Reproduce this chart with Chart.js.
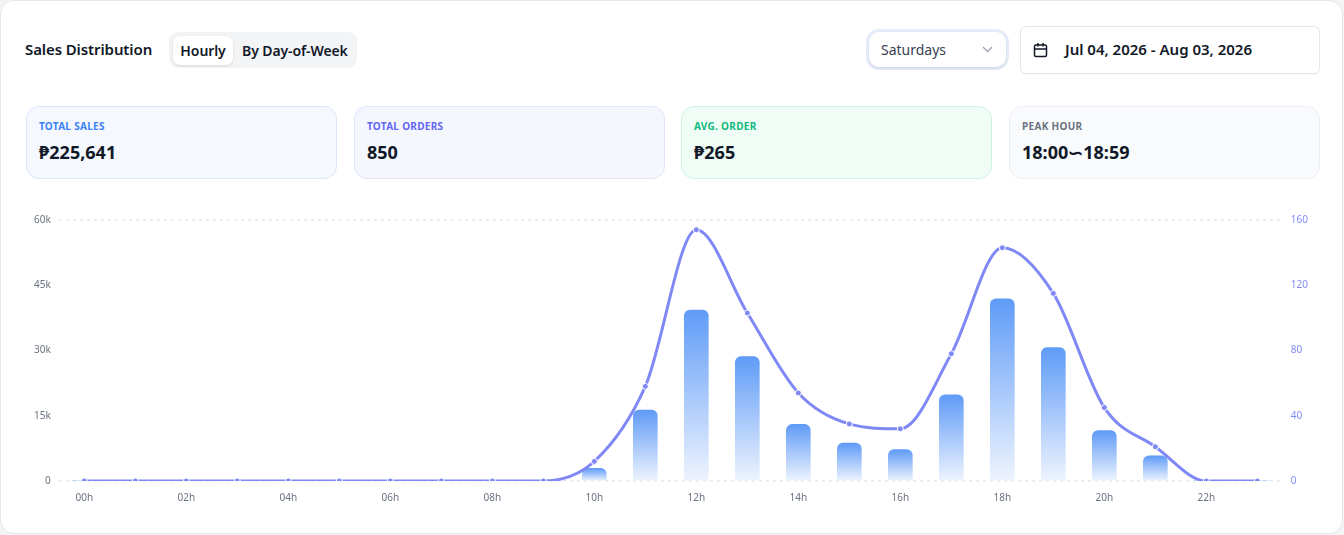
<!DOCTYPE html>
<html>
<head>
<meta charset="utf-8">
<script src="https://cdn.jsdelivr.net/npm/chart.js@4"></script>
<style>
  * { box-sizing: border-box; }
  body { margin: 0; background: #f3f4f6; font-family: "Noto Sans", Roboto, sans-serif; color: #111827; }
  .card { position: absolute; left: 0; top: 0; width: 1343px; height: 534px; background: #fff; border: 1px solid #e5e7eb; border-radius: 14px; }
  .title { position: absolute; left: 24px; top: 38px; font-size: 15px; font-weight: 600; letter-spacing: -0.1px; }
  .tabs { position: absolute; left: 168px; top: 31px; width: 188px; height: 36px; background: #f3f4f6; border-radius: 9px; }
  .tab { position: absolute; top: 4px; height: 29px; line-height: 29px; font-size: 14px; font-weight: 600; letter-spacing: -0.1px; }
  .tab.active { left: 4px; width: 60px; background: #fff; border-radius: 7px; box-shadow: 0 1px 3px rgba(0,0,0,0.12); text-align: center; }
  .select { position: absolute; left: 865px; top: 28px; width: 143px; height: 41px; border-radius: 13px; background: #e6eefc; padding: 3px; }
  .select .in { width: 100%; height: 100%; background: #fff; border-radius: 10px; box-shadow: 0 1px 3px rgba(0,0,0,0.12); position: relative; }
  .select .txt { position: absolute; left: 12px; top: 8px; font-size: 14px; color: #374151; }
  .select svg { position: absolute; right: 13px; top: 14px; }
  .date { position: absolute; left: 1019px; top: 25px; width: 300px; height: 48px; border: 1px solid #e5e7eb; border-radius: 6px; background: #fff; box-shadow: 0 1px 2px rgba(0,0,0,0.04); }
  .date svg { position: absolute; left: 12px; top: 15px; }
  .date .txt { position: absolute; left: 44px; top: 12px; font-size: 15px; font-weight: 600; }
  .stat { position: absolute; top: 105px; width: 311px; height: 73px; border-radius: 13px; border: 1px solid; }
  .stat .lbl { position: absolute; left: 12px; top: 12px; font-size: 10px; font-weight: 700; letter-spacing: 0.3px; }
  .stat .val { position: absolute; left: 12px; top: 33px; font-size: 18px; font-weight: 700; color: #111827; }
  .chartbox { position: absolute; left: 25px; top: 205px; width: 1290px; height: 301px; }
</style>
</head>
<body>
<div class="card">
  <div class="title">Sales Distribution</div>
  <div class="tabs">
    <div class="tab active">Hourly</div>
    <div class="tab" style="left:73px">By Day-of-Week</div>
  </div>
  <div class="select"><div class="in">
    <div class="txt">Saturdays</div>
    <svg width="11" height="7" viewBox="0 0 11 7"><path d="M1 1l4.5 4.5L10 1" fill="none" stroke="#9ca3af" stroke-width="1.3"/></svg>
  </div></div>
  <div class="date">
    <svg width="15" height="16" viewBox="0 0 15 16"><rect x="1.5" y="3" width="12" height="11.5" rx="1.5" fill="none" stroke="#111827" stroke-width="1.5"/><path d="M1.5 7h12M5 1v3.5M10 1v3.5" stroke="#111827" stroke-width="1.5"/></svg>
    <div class="txt">Jul 04, 2026 - Aug 03, 2026</div>
  </div>

  <div class="stat" style="left:25px;background:#f5f8ff;border-color:#dbe6fb">
    <div class="lbl" style="color:#3b82f6">TOTAL SALES</div>
    <div class="val">₱225,641</div>
  </div>
  <div class="stat" style="left:353px;background:#f5f7ff;border-color:#e0e3fb">
    <div class="lbl" style="color:#6366f1">TOTAL ORDERS</div>
    <div class="val">850</div>
  </div>
  <div class="stat" style="left:680px;background:#f0fdf6;border-color:#cff3e2">
    <div class="lbl" style="color:#10b981">AVG. ORDER</div>
    <div class="val">₱265</div>
  </div>
  <div class="stat" style="left:1008px;background:#f8fafc;border-color:#eceff3">
    <div class="lbl" style="color:#6b7280">PEAK HOUR</div>
    <div class="val">18:00∽18:59</div>
  </div>

  <div class="chartbox"><canvas id="hourChart"></canvas></div>
</div>

<script>
const hours = ["00h","01h","02h","03h","04h","05h","06h","07h","08h","09h","10h","11h",
               "12h","13h","14h","15h","16h","17h","18h","19h","20h","21h","22h","23h"];
const salesByHour = [0,0,0,0,0,0,0,0,0,0,2900,16300,39300,28600,13000,8700,7200,19800,41900,30700,11600,5800,0,0];
const ordersByHour = [0,0,0,0,0,0,0,0,0,0,12,58,154,103,54,35,32,78,143,115,45,21,0,0];
const salesTicks = [0,15000,30000,45000,60000];
const orderTicks = [0,40,80,120,160];

function barGradient(ctx) {
    const chart = ctx.chart;
    const area = chart.chartArea;
    if (!area || ctx.type !== "data") return "#5f9bf7";
    const y = chart.scales.y;
    const top = y.getPixelForValue(ctx.raw);
    const base = y.getPixelForValue(0);
    if (base - top < 1) return "#5f9bf7";
    const g = chart.ctx.createLinearGradient(0, top, 0, base);
    g.addColorStop(0, "#5f9bf7");
    g.addColorStop(1, "#eef4fe");
    return g;
}

// only the outer lines are drawn, dotted
function edgeGrid(ctx) {
    const last = ctx.chart.scales.y.ticks.length - 1;
    return (ctx.index === 0 || ctx.index === last) ? "#e5e7eb" : "rgba(0,0,0,0)";
}

new Chart(document.getElementById("hourChart"), {
    data: {
        labels: hours,
        datasets: [{
            type: "line",
            label: "Orders",
            data: ordersByHour,
            yAxisID: "y1",
            borderColor: "#7f88f5",
            borderWidth: 3,
            cubicInterpolationMode: "monotone",
            pointRadius: 3,
            pointBackgroundColor: "#7f88f5",
            pointBorderColor: "#ffffff",
            pointBorderWidth: 1,
            fill: false,
            order: 0
        }, {
            type: "bar",
            label: "Sales",
            data: salesByHour,
            yAxisID: "y",
            backgroundColor: barGradient,
            borderRadius: { topLeft: 6, topRight: 6 },
            borderSkipped: "bottom",
            barThickness: 24,
            order: 1
        }]
    },
    options: {
        responsive: true,
        maintainAspectRatio: false,
        animation: false,
        layout: { padding: { left: 0, right: 0, top: 9, bottom: 0 } },
        plugins: { legend: { display: false }, tooltip: { enabled: false } },
        scales: {
            x: {
                grid: { display: false },
                border: { display: false },
                ticks: {
                    autoSkip: false,
                    maxRotation: 0,
                    color: "#6b7280",
                    font: { family: "Noto Sans", size: 10 },
                    callback: (v, i) => i % 2 === 0 ? hours[i] : ""
                }
            },
            y: {
                position: "left",
                min: 0,
                max: 60000,
                afterBuildTicks: axis => { axis.ticks = salesTicks.map(v => ({ value: v })); },
                grid: { color: edgeGrid, lineWidth: 1.5, drawTicks: false },
                border: { display: false, dash: [3, 4] },
                ticks: {
                    color: "#6b7280",
                    padding: 8,
                    font: { family: "Noto Sans", size: 10 },
                    callback: v => v === 0 ? "0" : (v / 1000) + "k"
                }
            },
            y1: {
                position: "right",
                min: 0,
                max: 160,
                afterBuildTicks: axis => { axis.ticks = orderTicks.map(v => ({ value: v })); },
                grid: { display: false, drawTicks: false },
                border: { display: false },
                ticks: {
                    color: "#818cf8",
                    padding: 8,
                    font: { family: "Noto Sans", size: 10 }
                }
            }
        }
    }
});
</script>
</body>
</html>
